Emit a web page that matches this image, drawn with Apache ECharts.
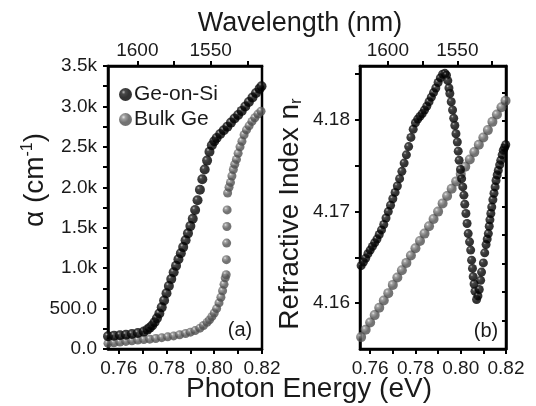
<!DOCTYPE html>
<html>
<head>
<meta charset="utf-8">
<script src="https://cdn.jsdelivr.net/npm/echarts@6/dist/echarts.min.js"></script>
<style>
html, body { margin: 0; padding: 0; background: #fff; }
#main { width: 536px; height: 406px; }
</style>
</head>
<body>
<div id="main"></div>
<script>
/**
 * 数据 (a): 吸收系数
 * **/
var aGeSiE = [0.7555, 0.758, 0.7605, 0.763, 0.7655, 0.768, 0.7705, 0.772, 0.773, 0.774, 0.775, 0.776, 0.777, 0.778, 0.779, 0.780, 0.781, 0.782, 0.783, 0.784, 0.785, 0.786, 0.787, 0.788, 0.789, 0.790, 0.791, 0.792, 0.793, 0.794, 0.795, 0.796, 0.797, 0.798, 0.799, 0.800, 0.801, 0.8025, 0.804, 0.8055, 0.807, 0.8085, 0.810, 0.8115, 0.813, 0.8145, 0.816, 0.8175, 0.819, 0.8198];
var aGeSiAlpha = [158, 165, 170, 176, 185, 197, 215, 240, 262, 290, 330, 380, 440, 515, 600, 690, 780, 865, 950, 1030, 1110, 1185, 1260, 1345, 1430, 1520, 1610, 1720, 1840, 1970, 2100, 2220, 2330, 2440, 2520, 2570, 2610, 2660, 2705, 2750, 2800, 2850, 2895, 2945, 3000, 3055, 3110, 3165, 3220, 3250];
var aBulkE = [0.7555, 0.758, 0.7605, 0.763, 0.7655, 0.768, 0.7705, 0.773, 0.7755, 0.778, 0.7805, 0.783, 0.7855, 0.788, 0.790, 0.792, 0.794, 0.7955, 0.797, 0.798, 0.799, 0.800, 0.801, 0.802, 0.8028, 0.8035, 0.8041, 0.8046, 0.8050, 0.8051, 0.8052, 0.8053, 0.8054, 0.8056, 0.8062, 0.8068, 0.8074, 0.808, 0.8086, 0.8093, 0.810, 0.8108, 0.8116, 0.8125, 0.8135, 0.8146, 0.8158, 0.817, 0.8183, 0.8196];
var aBulkAlpha = [70, 78, 86, 94, 102, 110, 116, 122, 130, 140, 150, 162, 176, 192, 208, 228, 258, 290, 330, 360, 400, 445, 500, 570, 640, 720, 800, 880, 918, 1105, 1310, 1515, 1720, 1930, 2000, 2060, 2140, 2220, 2285, 2345, 2420, 2500, 2570, 2650, 2710, 2760, 2815, 2860, 2905, 2940];

/**
 * 数据 (b): 折射率
 * **/
var bGeSiE = [0.756, 0.757, 0.758, 0.759, 0.760, 0.761, 0.762, 0.763, 0.764, 0.765, 0.766, 0.767, 0.768, 0.769, 0.770, 0.771, 0.772, 0.773, 0.774, 0.775, 0.776, 0.777, 0.778, 0.779, 0.780, 0.781, 0.782, 0.783, 0.784, 0.785, 0.786, 0.787, 0.788, 0.789, 0.790, 0.791, 0.792,
	0.7930, 0.7937, 0.7943, 0.7948, 0.7952, 0.7958, 0.7964, 0.7969, 0.7974, 0.7979, 0.7985, 0.7989, 0.7993, 0.7999, 0.8004, 0.8009, 0.8014, 0.8018, 0.8023, 0.8028, 0.8033, 0.8039, 0.8044, 0.8048, 0.8052, 0.8055, 0.8059, 0.8063, 0.8070,
	0.8076, 0.8082, 0.8088, 0.8092, 0.8100, 0.8106, 0.8112, 0.8117, 0.8122, 0.8126, 0.8129, 0.8133, 0.8137, 0.8142, 0.8147, 0.8152, 0.8156, 0.8161, 0.8166, 0.8172, 0.8177, 0.8183, 0.8188, 0.8194, 0.8199];
var bGeSiN = [4.1641, 4.1645, 4.1649, 4.1654, 4.1658, 4.1662, 4.1666, 4.1670, 4.1675, 4.1680, 4.1686, 4.1693, 4.1700, 4.1707, 4.1714, 4.1721, 4.1728, 4.1736, 4.1744, 4.1753, 4.1762, 4.1771, 4.1781, 4.1790, 4.1797, 4.1801, 4.1804, 4.1807, 4.1811, 4.1815, 4.1820, 4.1825, 4.1830, 4.1835, 4.1841, 4.1846, 4.1850,
	4.1851, 4.1849, 4.1843, 4.1835, 4.1829, 4.1820, 4.1811, 4.1802, 4.1794, 4.1785, 4.1776, 4.1766, 4.1756, 4.1746, 4.1736, 4.1727, 4.1718, 4.1708, 4.1698, 4.1687, 4.1676, 4.1667, 4.1658, 4.1647, 4.1638, 4.1629, 4.1621, 4.1613, 4.1604,
	4.1608, 4.1615, 4.1625, 4.1634, 4.1644, 4.1655, 4.1664, 4.1670, 4.1676, 4.1684, 4.1691, 4.1698, 4.1705, 4.1713, 4.1720, 4.1727, 4.1734, 4.1740, 4.1745, 4.1751, 4.1756, 4.1762, 4.1767, 4.1770, 4.1773];
var bBulkE = [0.756, 0.758, 0.760, 0.762, 0.764, 0.766, 0.768, 0.770, 0.772, 0.774, 0.776, 0.778, 0.780, 0.782, 0.784, 0.786, 0.788, 0.790, 0.792, 0.794, 0.796, 0.798, 0.800, 0.802, 0.804, 0.806, 0.808, 0.810, 0.812, 0.814, 0.816, 0.818, 0.8198];
var bBulkN = [4.1563, 4.1571, 4.1579, 4.1587, 4.1595, 4.1603, 4.1611, 4.1620, 4.1628, 4.1636, 4.1644, 4.1652, 4.1660, 4.1668, 4.1676, 4.1684, 4.1692, 4.1700, 4.1709, 4.1717, 4.1725, 4.1733, 4.1741, 4.1749, 4.1757, 4.1765, 4.1773, 4.1781, 4.1789, 4.1798, 4.1806, 4.1814, 4.1821];

/**
 * 刻度
 * **/
var energyTicks = [0.76, 0.77, 0.78, 0.79, 0.80, 0.81, 0.82];
var energyLabels = [0.76, 0.78, 0.80, 0.82];
var waveTicks = [1525, 1550, 1575, 1600];
var waveLabels = [1550, 1600];
var nTicks = [4.16, 4.165, 4.17, 4.175, 4.18, 4.185];
var nLabels = [4.16, 4.17, 4.18];

function zip(xs, ys) {
	var out = [];
	for (var i = 0; i < xs.length; i++) out.push([xs[i], ys[i]]);
	return out;
}

function ball(c0, c1, c2) {
	return new echarts.graphic.RadialGradient(0.35, 0.32, 0.7, [
		{ offset: 0, color: c0 },
		{ offset: 0.22, color: c1 },
		{ offset: 0.6, color: c2 },
		{ offset: 1, color: c2 }
	]);
}
var blackBall = ball('#a8a8a8', '#1c1c1c', '#000');
var greyBall = ball('#dedede', '#888', '#505050');

var font = 'Liberation Sans, Arial, sans-serif';
var black = '#000';
var txt = '#1a1a1a';

function energyAxis(grid) {
	return {
		gridIndex: grid,
		type: 'value',
		position: 'bottom',
		min: 0.7555,
		max: 0.82,
		axisLine: { lineStyle: { color: black, width: 2.5 } },
		axisTick: { customValues: energyTicks, length: 5, lineStyle: { color: black, width: 2 } },
		axisLabel: {
			customValues: energyLabels,
			margin: 10,
			fontSize: 19,
			fontFamily: font,
			color: txt,
			formatter: function(v) { return v.toFixed(2); }
		},
		splitLine: { show: false }
	};
}

function waveAxis(grid) {
	return {
		gridIndex: grid,
		type: 'value',
		position: 'top',
		inverse: true,
		min: 1515,
		max: 1620,
		axisLine: { lineStyle: { color: black, width: 2.5 } },
		axisTick: { customValues: waveTicks, length: 5, lineStyle: { color: black, width: 2 } },
		axisLabel: {
			customValues: waveLabels,
			margin: 6,
			fontSize: 19,
			fontFamily: font,
			color: txt,
			formatter: function(v) { return String(v); }
		},
		splitLine: { show: false }
	};
}

var myChart = echarts.init(document.getElementById('main'));
var option = {
	animation: false,
	backgroundColor: '#fff',
	grid: [{
		left: 108,
		top: 66,
		width: 154,
		height: 283,
		show: true,
		borderColor: black,
		borderWidth: 2.5
	}, {
		left: 360,
		top: 66,
		width: 146,
		height: 283,
		show: true,
		borderColor: black,
		borderWidth: 2.5
	}],
	legend: {
		data: ['Ge-on-Si', 'Bulk Ge'],
		orient: 'vertical',
		left: 114,
		top: 79,
		itemGap: 4,
		itemWidth: 13,
		itemHeight: 13,
		icon: 'circle',
		textStyle: { fontSize: 21, fontFamily: font, color: txt, padding: [0, 0, 0, -3] }
	},
	xAxis: [energyAxis(0), waveAxis(0), energyAxis(1), waveAxis(1)],
	yAxis: [{
		gridIndex: 0,
		type: 'value',
		min: 0,
		max: 3500,
		interval: 500,
		axisLine: { show: true, lineStyle: { color: black, width: 2.5 } },
		axisTick: { length: 5, lineStyle: { color: black, width: 2 } },
		minorTick: { show: true, splitNumber: 2, length: 5, lineStyle: { color: black, width: 2 } },
		axisLabel: {
			margin: 11,
			fontSize: 19,
			fontFamily: font,
			color: txt,
			formatter: function(v) {
				if (v < 1000) return v.toFixed(1);
				return (v / 1000).toFixed(1) + 'k';
			}
		},
		splitLine: { show: false }
	}, {
		gridIndex: 1,
		type: 'value',
		min: 4.155,
		max: 4.1859,
		axisLine: { show: true, lineStyle: { color: black, width: 2.5 } },
		axisTick: { customValues: nTicks, length: 5, lineStyle: { color: black, width: 2 } },
		axisLabel: {
			customValues: nLabels,
			margin: 10,
			fontSize: 19,
			fontFamily: font,
			color: txt,
			formatter: function(v) { return v.toFixed(2); }
		},
		splitLine: { show: false }
	}, {
		gridIndex: 1,
		type: 'value',
		position: 'right',
		min: 0,
		max: 9.93,
		interval: 1,
		axisLine: { show: true, lineStyle: { color: black, width: 2.5 } },
		axisTick: { inside: true, length: 4, lineStyle: { color: black, width: 2 } },
		axisLabel: { show: false },
		splitLine: { show: false }
	}],
	series: [{
		name: 'Bulk Ge',
		type: 'scatter',
		xAxisIndex: 0,
		yAxisIndex: 0,
		symbolSize: 9,
		itemStyle: { color: greyBall },
		data: zip(aBulkE, aBulkAlpha)
	}, {
		name: 'Ge-on-Si',
		type: 'scatter',
		xAxisIndex: 0,
		yAxisIndex: 0,
		symbolSize: 10,
		itemStyle: { color: blackBall },
		data: zip(aGeSiE, aGeSiAlpha)
	}, {
		name: 'Bulk Ge',
		type: 'scatter',
		xAxisIndex: 2,
		yAxisIndex: 1,
		symbolSize: 10,
		itemStyle: { color: greyBall },
		data: zip(bBulkE, bBulkN)
	}, {
		name: 'Ge-on-Si',
		type: 'scatter',
		xAxisIndex: 2,
		yAxisIndex: 1,
		symbolSize: 9,
		itemStyle: { color: blackBall },
		data: zip(bGeSiE, bGeSiN)
	}],
	graphic: [{
		type: 'text',
		x: 300,
		y: 24,
		style: { text: 'Wavelength (nm)', font: '27px ' + font, fill: txt, textAlign: 'center', textVerticalAlign: 'middle' }
	}, {
		type: 'text',
		x: 309,
		y: 389,
		style: { text: 'Photon Energy (eV)', font: '28px ' + font, fill: txt, textAlign: 'center', textVerticalAlign: 'middle' }
	}, {
		type: 'text',
		x: 35,
		y: 180,
		rotation: Math.PI / 2,
		style: {
			text: '{a|α (cm}{s|-1}{a|)}',
			textAlign: 'center',
			textVerticalAlign: 'middle',
			fill: txt,
			rich: {
				a: { fontSize: 28, fontFamily: font, fill: txt },
				s: { fontSize: 16, fontFamily: font, fill: txt, padding: [0, 0, 14, 0] }
			}
		}
	}, {
		type: 'text',
		x: 290,
		y: 214,
		rotation: Math.PI / 2,
		style: {
			text: '{a|Refractive Index n}{s|r}',
			textAlign: 'center',
			textVerticalAlign: 'middle',
			fill: txt,
			rich: {
				a: { fontSize: 28, fontFamily: font, fill: txt },
				s: { fontSize: 17, fontFamily: font, fill: txt, padding: [12, 0, 0, 0] }
			}
		}
	}, {
		type: 'text',
		x: 240,
		y: 330,
		style: { text: '(a)', font: '20px ' + font, fill: txt, textAlign: 'center', textVerticalAlign: 'middle' }
	}, {
		type: 'text',
		x: 486,
		y: 331,
		style: { text: '(b)', font: '20px ' + font, fill: txt, textAlign: 'center', textVerticalAlign: 'middle' }
	}]
};
myChart.setOption(option);
</script>
</body>
</html>
